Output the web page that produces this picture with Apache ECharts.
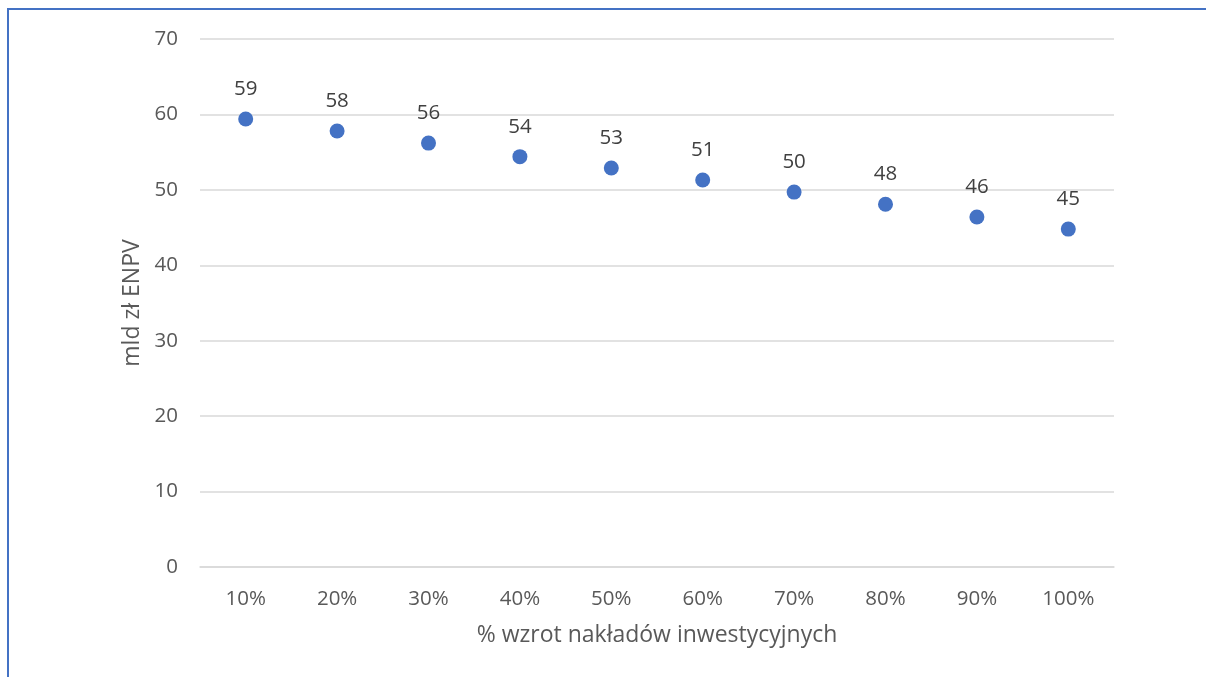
<!DOCTYPE html>
<html>
<head>
<meta charset="utf-8">
<script src="https://cdn.jsdelivr.net/npm/echarts@6/dist/echarts.min.js"></script>
<style>
  html, body { margin: 0; padding: 0; background: #fff; }
  .frame {
    position: absolute;
    left: 7px;
    top: 8px;
    width: 1199px;
    height: 669px;
    border-left: 2px solid #4472c4;
    border-top: 2px solid #4472c4;
    box-sizing: border-box;
  }
  #chart { position: absolute; left: 0; top: 0; width: 1206px; height: 677px; }
</style>
</head>
<body>
<div class="frame"></div>
<div id="chart"></div>
<script>
const categories = ['10%', '20%', '30%', '40%', '50%', '60%', '70%', '80%', '90%', '100%']
const enpv = [59.4, 57.8, 56.2, 54.4, 52.9, 51.3, 49.7, 48.1, 46.4, 44.8]
const yTicks = { min: 0, max: 70, interval: 10 }

const fontFamily = '"Open Sans", sans-serif'
const chart = echarts.init(document.getElementById('chart'))

const option = {
  backgroundColor: 'transparent',
  animation: false,
  grid: { left: 200, right: 92, top: 39, bottom: 110 },
  xAxis: {
    type: 'category',
    data: categories,
    name: '% wzrot nakładów inwestycyjnych',
    nameLocation: 'middle',
    nameGap: 57,
    nameTextStyle: { color: '#595959', fontSize: 23, fontFamily },
    axisLine: { lineStyle: { color: '#d9d9d9', width: 1.5 } },
    axisTick: { show: false },
    axisLabel: { color: '#595959', fontSize: 20.5, fontFamily, margin: 22 }
  },
  yAxis: {
    type: 'value',
    min: yTicks.min,
    max: yTicks.max,
    interval: yTicks.interval,
    name: 'mld zł ENPV',
    nameLocation: 'middle',
    nameGap: 55,
    nameTextStyle: { color: '#595959', fontSize: 23, fontFamily },
    axisLine: { show: false },
    axisTick: { show: false },
    axisLabel: { color: '#595959', fontSize: 20.5, fontFamily, margin: 22 },
    splitLine: { lineStyle: { color: '#d9d9d9', width: 1.5 } }
  },
  series: [
    {
      type: 'scatter',
      data: enpv,
      symbolSize: 15,
      itemStyle: { color: '#4472c4', opacity: 1 },
      label: {
        show: true,
        position: 'top',
        distance: 12,
        color: '#404040',
        fontSize: 20.5,
        fontFamily,
        formatter: p => Math.round(p.value)
      }
    }
  ]
}

chart.setOption(option)
</script>
</body>
</html>
